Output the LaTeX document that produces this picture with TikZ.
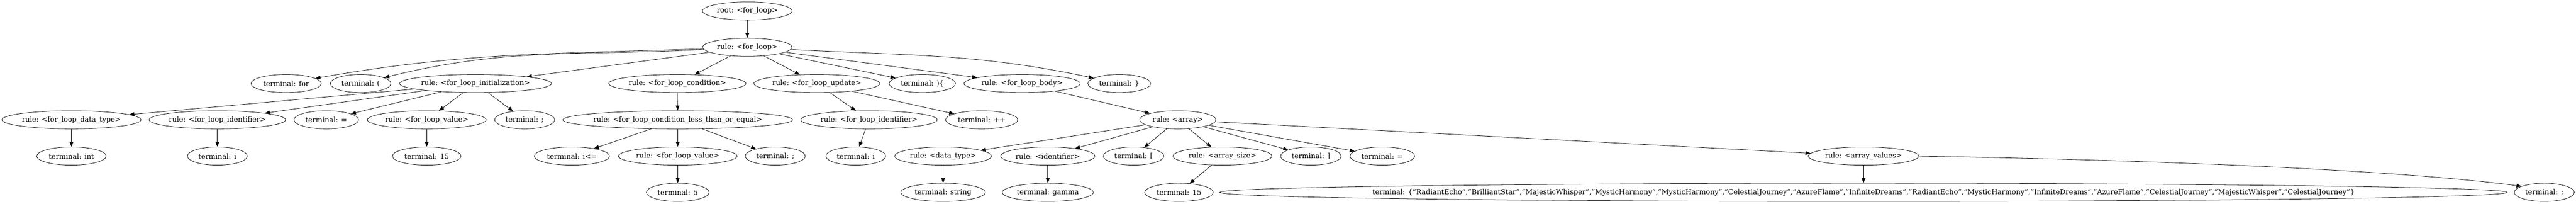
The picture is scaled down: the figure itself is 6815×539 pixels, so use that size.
\documentclass[tikz,border=0pt]{standalone}
\usepackage{fontspec}
\setmainfont{DejaVu Serif}
\usetikzlibrary{shapes.geometric,arrows.meta}

\newcommand\treefont{\fontsize{14}{16}\selectfont}
\newlength\labelwd
% ellipse sized from its label, as the layout tool does
\newcommand\treenode[3]{%
  \pgfinterruptpicture\settowidth\labelwd{\treefont #3}\global\labelwd=\labelwd\endpgfinterruptpicture
  \node [tree node, minimum width={1.3*\labelwd+20.8pt}] (#1) at (#2) {\makebox[0pt][c]{#3}};}

\begin{document}
\begin{tikzpicture}[x=0.75pt,y=-0.75pt]
\tikzstyle{every node}+=[font=\treefont]
\tikzstyle{tree node}=[draw=black,ellipse,line width=0.8pt,minimum height=36pt,inner sep=0pt]
\tikzstyle{edge}=[black,line width=0.8pt,-{Triangle[length=10pt,width=7.5pt]}]
\useasboundingbox (0,0) rectangle (6815,539);
% root and the for loop rule
\treenode{root}{1977,29}{root: <for\_loop>}
\treenode{loop}{1977,125}{rule: <for\_loop>}
% children of the for loop
\treenode{kwfor}{757,221}{terminal: for}
\treenode{lparen}{954,221}{terminal: (}
\treenode{init}{1258,221}{rule: <for\_loop\_initialization>}
\treenode{cond}{1792,221}{rule: <for\_loop\_condition>}
\treenode{update}{2161,221}{rule: <for\_loop\_update>}
\treenode{rpbrace}{2440,221}{terminal: )\{}
\treenode{body}{2704,221}{rule: <for\_loop\_body>}
\treenode{rbrace}{2961,221}{terminal: \}}
% third row
\treenode{itype}{189,317}{rule: <for\_loop\_data\_type>}
\treenode{iid}{575,317}{rule: <for\_loop\_identifier>}
\treenode{ieq}{863,317}{terminal: =}
\treenode{ival}{1129,317}{rule: <for\_loop\_value>}
\treenode{isemi}{1388,317}{terminal: ;}
\treenode{lte}{1793,317}{rule: <for\_loop\_condition\_less\_than\_or\_equal>}
\treenode{uid}{2299,317}{rule: <for\_loop\_identifier>}
\treenode{incr}{2597,317}{terminal: ++}
\treenode{arr}{3116,317}{rule: <array>}
% fourth row
\treenode{tint}{189,413}{terminal: int}
\treenode{ti}{575,413}{terminal: i}
\treenode{tfifteen}{1129,413}{terminal: 15}
\treenode{lteop}{1513,413}{terminal: i<=}
\treenode{lteval}{1793,413}{rule: <for\_loop\_value>}
\treenode{ltesemi}{2051,413}{terminal: ;}
\treenode{ui}{2264,413}{terminal: i}
\treenode{dtype}{2495,413}{rule: <data\_type>}
\treenode{ident}{2772,413}{rule: <identifier>}
\treenode{lbrack}{2999,413}{terminal: [}
\treenode{asize}{3234,413}{rule: <array\_size>}
\treenode{rbrack}{3468,413}{terminal: ]}
\treenode{aeq}{3657,413}{terminal: =}
\treenode{avals}{4930,413}{rule: <array\_values>}
% bottom row
\treenode{tfive}{1793,509}{terminal: 5}
\treenode{tstr}{2495,509}{terminal: string}
\treenode{tgamma}{2772,509}{terminal: gamma}
\treenode{sfifteen}{3119,509}{terminal: 15}
\treenode{vals}{4930,509}{terminal: \{"RadiantEcho","BrilliantStar","MajesticWhisper","MysticHarmony","MysticHarmony","CelestialJourney","AzureFlame","InfiniteDreams","RadiantEcho","MysticHarmony","InfiniteDreams","AzureFlame","CelestialJourney","MajesticWhisper","CelestialJourney"\}}
\treenode{asemi}{6731,509}{terminal: ;}
% edges
\draw [edge] (root) -- (loop);
\draw [edge] (loop) to[out=182,in=10] (kwfor);
\draw [edge] (loop) to[out=183,in=14] (lparen);
\draw [edge] (loop) -- (init);
\draw [edge] (loop) -- (cond);
\draw [edge] (loop) -- (update);
\draw [edge] (loop) -- (rpbrace);
\draw [edge] (loop) -- (body);
\draw [edge] (loop) to[out=-3,in=168] (rbrace);
\draw [edge] (init) -- (itype);
\draw [edge] (init) -- (iid);
\draw [edge] (init) -- (ieq);
\draw [edge] (init) -- (ival);
\draw [edge] (init) -- (isemi);
\draw [edge] (itype) -- (tint);
\draw [edge] (iid) -- (ti);
\draw [edge] (ival) -- (tfifteen);
\draw [edge] (cond) -- (lte);
\draw [edge] (lte) -- (lteop);
\draw [edge] (lte) -- (lteval);
\draw [edge] (lte) -- (ltesemi);
\draw [edge] (lteval) -- (tfive);
\draw [edge] (update) -- (uid);
\draw [edge] (update) -- (incr);
\draw [edge] (uid) -- (ui);
\draw [edge] (body) -- (arr);
\draw [edge] (arr) -- (dtype);
\draw [edge] (arr) -- (ident);
\draw [edge] (arr) -- (lbrack);
\draw [edge] (arr) -- (asize);
\draw [edge] (arr) -- (rbrack);
\draw [edge] (arr) -- (aeq);
\draw [edge] (arr) -- (avals);
\draw [edge] (dtype) -- (tstr);
\draw [edge] (ident) -- (tgamma);
\draw [edge] (asize) -- (sfifteen);
\draw [edge] (avals) -- (vals);
\draw [edge] (avals.east) .. controls +(700,12) and +(-300,-40) .. (asemi.165);
\end{tikzpicture}
\end{document}
